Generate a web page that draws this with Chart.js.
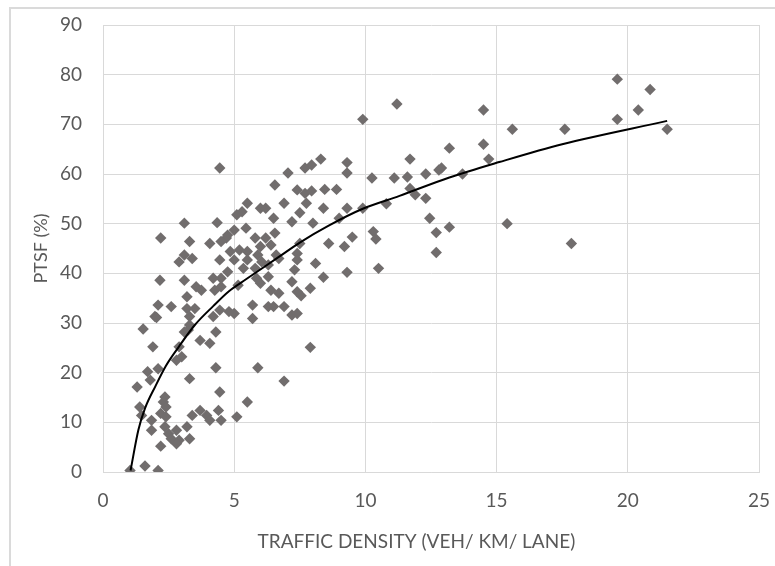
<!DOCTYPE html>
<html>
<head>
<meta charset="utf-8">
<script src="https://cdn.jsdelivr.net/npm/chart.js@4"></script>
<style>
  html, body { margin: 0; padding: 0; background: #fff; }
  #wrap { position: relative; width: 775px; height: 566px; overflow: hidden; }
  #frame { position: absolute; left: 9px; top: 7px; width: 800px; height: 600px;
           border-left: 2px solid #dadada; border-top: 2px solid #dadada; }
  canvas { position: absolute; left: 0; top: 0; }
</style>
</head>
<body>
<div id="wrap">
  <div id="frame"></div>
  <canvas id="ptsfChart" width="775" height="566"></canvas>
</div>
<script>
// Observed points: traffic density (veh/km/lane) vs PTSF (%)
const densityX = [
  19.6, 20.85, 20.4, 19.6, 21.5, 17.6, 15.6, 14.5, 14.5, 14.7, 15.4, 17.85,
  11.2, 9.9, 13.2, 11.7, 12.9, 12.8, 13.7, 12.3, 11.1, 11.6, 10.25, 11.7,
  11.9, 12.3, 10.8, 9.9, 9.3, 9.0, 12.45, 13.2, 12.7, 10.3, 10.4, 12.7,
  9.5, 9.2, 10.5, 9.3, 8.6, 9.3, 9.3, 8.3, 7.95, 7.7, 8.45, 8.9,
  7.4, 7.7, 7.95, 7.75, 8.4, 7.5, 8.0, 8.1, 8.4, 7.4, 7.9, 7.55,
  4.45, 7.05, 6.55, 6.9, 5.5, 6.0, 6.2, 5.3, 5.1, 6.5, 7.2, 4.35,
  5.0, 5.45, 4.75, 6.55, 6.2, 5.8, 4.7, 4.5, 6.4, 7.5, 6.0, 5.2,
  5.5, 4.85, 5.9, 6.6, 4.45, 5.0, 5.5, 6.05, 6.7, 7.4, 5.35, 5.8,
  6.3, 4.75, 4.5, 7.3, 5.85, 6.3, 7.2, 6.0, 5.15, 4.5, 7.4, 6.4,
  6.7, 5.7, 6.3, 6.5, 6.9, 7.2, 7.4, 5.7, 5.0, 4.8, 4.45, 4.3,
  7.9, 5.9, 4.3, 6.9, 4.45, 5.5, 4.4, 5.1, 4.5,
  1.03, 1.6, 2.1, 1.9, 1.53, 2.9, 2.8, 1.7, 2.1, 3.3, 1.3, 1.8,
  2.36, 2.3, 1.4, 2.4, 1.47, 1.85, 2.2, 2.4, 2.36, 1.85, 2.5, 2.8,
  2.9, 2.6, 3.4, 3.7, 3.95, 4.07, 3.3, 3.2, 2.8, 2.2, 3.0, 3.7,
  4.07, 3.25,
  3.1, 2.2, 3.3, 4.07, 3.1, 2.9, 3.4, 2.17, 3.1, 3.55, 3.75, 3.2,
  4.2, 4.26, 2.1, 2.6, 3.2, 3.5, 1.98, 3.3, 3.3, 3.1, 4.2, 2.04
]
const ptsfY = [
  79.1, 77, 72.9, 71, 69, 69, 69, 72.9, 66, 63, 50, 46,
  74.1, 71, 65.2, 63, 61.2, 60.8, 60, 60, 59.2, 59.4, 59.2, 57.1,
  55.8, 55.1, 54, 53.1, 53.1, 51.1, 51.1, 49.3, 48.2, 48.4, 46.9, 44.2,
  47.3, 45.4, 41, 40.2, 46, 62.3, 60.2, 63, 61.8, 61.2, 56.9, 56.9,
  56.8, 56.1, 56.6, 54.1, 53.1, 52.2, 50.1, 42, 39.2, 44, 37, 35.5,
  61.2, 60.2, 57.8, 54.1, 54.1, 53.1, 53.1, 52.4, 51.8, 51.1, 50.4, 50.2,
  48.7, 49.1, 47.7, 48.1, 47.1, 47.1, 47.1, 46.4, 45.7, 46, 45.4, 44.7,
  44.4, 44.4, 43.7, 43.7, 42.7, 42.7, 42.7, 42.3, 43, 42.7, 41, 41,
  41.7, 40.3, 39, 40.7, 39, 39.3, 38.3, 38, 37.6, 37.3, 36.3, 36.6,
  36, 33.6, 33.3, 33.3, 33.3, 31.6, 31.9, 30.9, 31.9, 32.3, 32.6, 28.2,
  25.1, 21, 21, 18.3, 16.1, 14.1, 12.4, 11.1, 10.4,
  0.3, 1.2, 0.3, 25.2, 28.8, 25.2, 22.5, 20.2, 20.8, 18.8, 17.1, 18.5,
  15.1, 14.1, 13.1, 13.1, 11.4, 10.4, 11.8, 11.1, 9.1, 8.4, 7.7, 8.4,
  6.4, 6.7, 11.4, 12.4, 11.4, 10.4, 6.7, 9.1, 5.7, 5.2, 23.2, 26.5,
  25.9, 28.6,
  50.1, 47.1, 46.4, 46, 43.7, 42.3, 43, 38.6, 38.6, 37.3, 36.6, 35.3,
  39, 36.6, 33.6, 33.3, 32.9, 32.9, 31.3, 31.3, 29.6, 28.2, 31.3, 31.1
]

// Fitted curve
const trendX = [1.05, 1.35, 1.6, 2, 2.4, 2.9, 3.5, 4.2, 4.8, 5.45, 6.7, 7.5, 8.6, 9.9, 11.3, 13.2, 15.1, 17.5, 21.5]
const trendY = [0.3, 8.5, 12.8, 17.3, 21.4, 25.3, 29.6, 33.4, 36.4, 38.8, 43.3, 46.2, 49.6, 53.0, 55.6, 59.3, 62.4, 66, 70.7]

const xTicks = [0, 5, 10, 15, 20, 25]
const yTicks = [0, 10, 20, 30, 40, 50, 60, 70, 80, 90]

const gridColor = '#d9d9d9'
const textColor = '#595959'
const fontFamily = 'Lato, "Open Sans", sans-serif'

const ctx = document.getElementById('ptsfChart').getContext('2d')

const chart = new Chart(ctx, {
  type: 'scatter',
  data: {
    datasets: [
      {
        label: 'Trend',
        type: 'line',
        data: trendX.map((x, i) => ({ x: x, y: trendY[i] })),
        borderColor: '#000',
        borderWidth: 2,
        pointRadius: 0,
        fill: false,
        cubicInterpolationMode: 'monotone',
        order: 0
      },
      {
        label: 'PTSF',
        data: densityX.map((x, i) => ({ x: x, y: ptsfY[i] })),
        pointStyle: 'rectRot',
        pointRadius: 5.7,
        pointBorderWidth: 0,
        backgroundColor: '#716d6d',
        borderColor: '#716d6d',
        order: 1
      }
    ]
  },
  options: {
    responsive: false,
    animation: false,
    devicePixelRatio: 1,
    layout: { padding: { left: 0, right: 16, top: 25, bottom: 0 } },
    plugins: {
      legend: { display: false },
      tooltip: { enabled: false }
    },
    scales: {
      x: {
        type: 'linear',
        min: 0,
        max: 25,
        afterBuildTicks: s => { s.ticks = xTicks.map(v => ({ value: v })) },
        afterFit: s => {
          s.height = 94
          s.paddingLeft = 0
          s.paddingRight = 0
        },
        grid: { color: gridColor, lineWidth: 1, drawTicks: false },
        border: { color: gridColor },
        ticks: { color: textColor, padding: 17, font: { family: fontFamily, size: 19 } },
        title: {
          display: true,
          text: 'TRAFFIC DENSITY (VEH/ KM/ LANE)\u00a0\u00a0\u00a0\u00a0\u00a0\u00a0',
          color: textColor,
          font: { family: fontFamily, size: 19 },
          padding: { top: 0, bottom: 13 }
        }
      },
      y: {
        type: 'linear',
        min: 0,
        max: 90,
        afterBuildTicks: s => { s.ticks = yTicks.map(v => ({ value: v })) },
        afterFit: s => {
          s.width = 103
          s.paddingTop = 0
          s.paddingBottom = 0
        },
        grid: { color: gridColor, lineWidth: 1, drawTicks: false },
        border: { color: gridColor },
        ticks: { color: textColor, padding: 21, font: { family: fontFamily, size: 19 } },
        title: {
          display: true,
          text: 'PTSF (%)',
          color: textColor,
          font: { family: fontFamily, size: 18 },
          padding: { top: 30, bottom: 0 }
        }
      }
    }
  }
})
</script>
</body>
</html>
